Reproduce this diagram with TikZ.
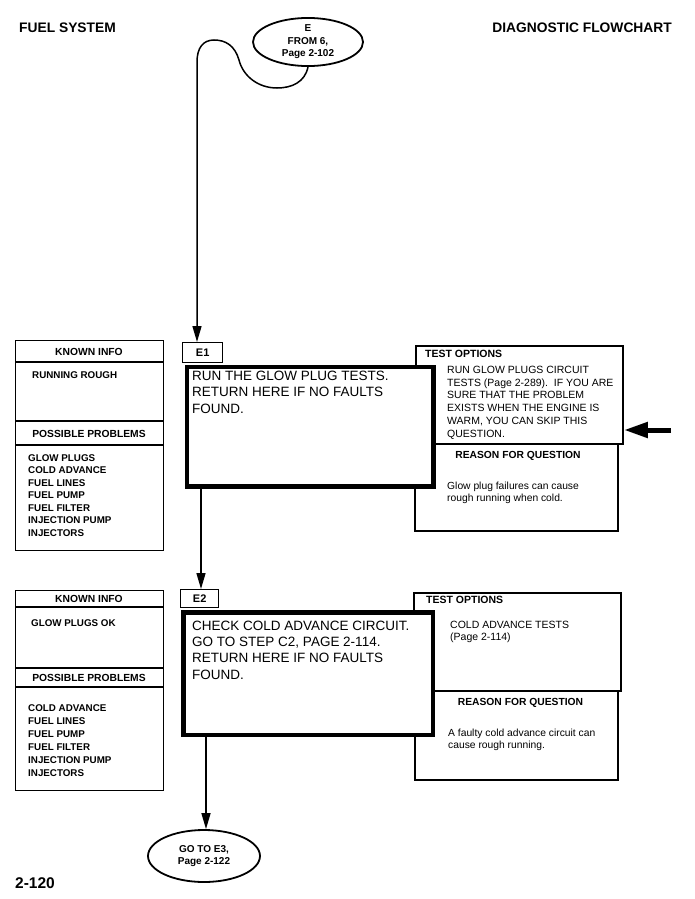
\documentclass[tikz,border=0pt]{standalone}
\usepackage{fontspec}
\setmainfont{Liberation Sans}
\usetikzlibrary{arrows.meta,shapes.geometric,calc}
\newcommand\fz[2]{\fontsize{#1}{#2}\selectfont}
\begin{document}
\begin{tikzpicture}[x=1pt,y=-1pt,
  thinbox/.style={draw, line width=1.3pt, inner sep=0, anchor=north west},
  testbox/.style={draw, line width=1.9pt, inner sep=0, anchor=north west},
  ebox/.style={draw, fill=white, line width=4.5pt, inner sep=0, anchor=north west},
  tabbox/.style={draw, fill=white, line width=1.4pt, inner sep=0, anchor=north west, font=\bfseries\fz{11}{13}},
  oval/.style={draw, ellipse, line width=1.8pt, inner sep=0, font=\bfseries\fz{10}{12.5}, align=center},
  txt/.style={inner sep=0, anchor=north west, align=left},
  hdr/.style={inner sep=0, font=\bfseries\fz{10.3}{12}},
  lst/.style={txt, font=\bfseries\fz{9.8}{12.6}},
  etxt/.style={txt, font=\fz{13.5}{16.3}},
  otxt/.style={txt, font=\fz{10.5}{12.7}},
  rtxt/.style={txt, font=\fz{10.3}{12.3}},
  conn/.style={line width=1.5pt, -{Triangle[length=16pt, width=9pt]}},
  title/.style={inner sep=0, font=\bfseries\fz{13.8}{16}}
]
\useasboundingbox (0,0) rectangle (694,899);

% titles
\node[title, anchor=base west] (t1) at (19,32.7) {FUEL SYSTEM};
\node[title, anchor=base east] (t2) at (672,33) {DIAGNOSTIC FLOWCHART};
\node[title, anchor=base west, font=\bfseries\fz{15.5}{18}] (pg) at (15,888) {2-120};

% top oval
\node[oval, minimum width=110pt, minimum height=47pt] (from) at (308,42) {E\\FROM 6,\\Page 2-102};

% ---------- E1 row ----------
\node[thinbox, minimum width=148pt, minimum height=210pt] (kb1) at (15,340) {};
\draw[line width=1.3pt] (15,362) -- (163,362) (15,421) -- (163,421) (15,445) -- (163,445);
\node[hdr] (kh1) at (89,351.5) {KNOWN INFO};
\node[txt, font=\bfseries\fz{9.8}{12}] (ki1) at (32,371) {RUNNING ROUGH};
\node[hdr] (ph1) at (89,433.5) {POSSIBLE PROBLEMS};
\node[lst, font=\bfseries\fz{9.8}{12.55}] (pl1) at (28,454) {GLOW PLUGS\\COLD ADVANCE\\FUEL LINES\\FUEL PUMP\\FUEL FILTER\\INJECTION PUMP\\INJECTORS};

\node[testbox, minimum width=207pt, minimum height=98pt] (to1) at (415,345) {};
\draw[line width=1.2pt] (415,443) -- (415,531) -- (618,531) -- (618,443);
\node[inner sep=0, anchor=west, font=\bfseries\fz{10.5}{12}] (toh1) at (425,354) {TEST OPTIONS};
\node[otxt] (tot1) at (447,366) {RUN GLOW PLUGS CIRCUIT\\TESTS (Page 2-289).\ \ IF YOU ARE\\SURE THAT THE PROBLEM\\EXISTS WHEN THE ENGINE IS\\WARM, YOU CAN SKIP THIS\\QUESTION.};
\node[hdr] (rh1) at (518,456) {REASON FOR QUESTION};
\node[rtxt] (rt1) at (447,481.5) {Glow plug failures can cause\\rough running when cold.};

\node[tabbox, minimum width=40pt, minimum height=20pt] (e1tab) at (182,342) {E1};
\node[ebox, minimum width=246.5pt, minimum height=119.5pt] (e1) at (184.5,364.5) {};
\node[etxt] (e1t) at (192,371) {RUN THE GLOW PLUG TESTS.\\RETURN HERE IF NO FAULTS\\FOUND.};

\coordinate (ra) at (671,430);
\draw[line width=5pt, -{Triangle[length=24pt, width=15pt]}] (ra) -- (to1.east |- ra);

% ---------- E2 row ----------
\node[thinbox, minimum width=148pt, minimum height=200pt] (kb2) at (15,590) {};
\draw[line width=1.3pt] (15,607) -- (163,607) (15,668) -- (163,668) (15,687) -- (163,687);
\node[hdr] (kh2) at (89,598.5) {KNOWN INFO};
\node[txt, font=\bfseries\fz{9.8}{12}] (ki2) at (31,619.5) {GLOW PLUGS OK};
\node[hdr] (ph2) at (89,677.5) {POSSIBLE PROBLEMS};
\node[lst, font=\bfseries\fz{9.8}{13}] (pl2) at (28,704.2) {COLD ADVANCE\\FUEL LINES\\FUEL PUMP\\FUEL FILTER\\INJECTION PUMP\\INJECTORS};

\node[testbox, minimum width=207pt, minimum height=98pt] (to2) at (413,592) {};
\draw[line width=1.2pt] (415,690) -- (415,780) -- (618,780) -- (618,690);
\node[inner sep=0, anchor=west, font=\bfseries\fz{10.5}{12}] (toh2) at (426,600) {TEST OPTIONS};
\node[otxt, font=\fz{10.5}{12.3}] (tot2) at (450,620.5) {COLD ADVANCE TESTS\\(Page 2-114)};
\node[hdr] (rh2) at (520.5,703.3) {REASON FOR QUESTION};
\node[rtxt] (rt2) at (448,729) {A faulty cold advance circuit can\\cause rough running.};

\node[tabbox, minimum width=38pt, minimum height=18pt] (e2tab) at (180,589) {E2};
\node[ebox, minimum width=249.5pt, minimum height=122.5pt] (e2) at (181,610) {};
\node[etxt] (e2t) at (192,620.5) {CHECK COLD ADVANCE CIRCUIT.\\GO TO STEP C2, PAGE 2-114.\\RETURN HERE IF NO FAULTS\\FOUND.};

% bottom oval
\node[oval, minimum width=112pt, minimum height=52pt] (goto) at (204,856) {GO TO E3,\\Page 2-122};

% connectors
\coordinate (in1) at ($(e1tab.north west)+(15,0)$);
\draw[conn] (from.south) .. controls (305,82) and (292,88) .. (277,88)
  .. controls (258,88) and (243,76) .. (239,60)
  .. controls (235,46) and (226,40) .. (214,40)
  .. controls (203,40) and (197,48) .. (197,62) -- (in1);
\draw[conn] (e1.south -| 201,0) -- (e2tab.north -| 201,0);
\draw[conn] (e2.south -| 206,0) -- (goto.north -| 206,0);
\end{tikzpicture}
\end{document}
